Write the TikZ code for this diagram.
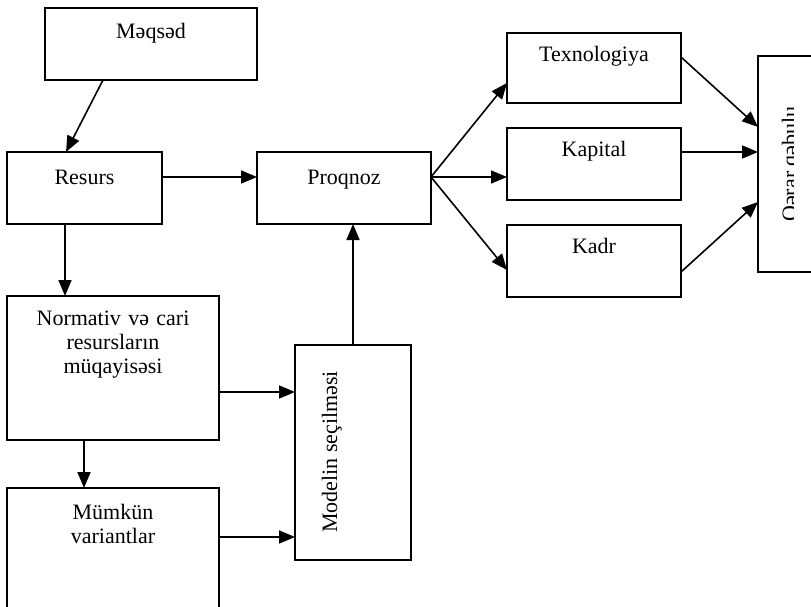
\documentclass[tikz,border=0pt]{standalone}
\usepackage{fontspec}
\setmainfont{Liberation Serif}
\usetikzlibrary{arrows.meta,calc}
\begin{document}
\begin{tikzpicture}[x=1pt,y=-1pt,
  box/.style={draw,line width=1.7pt,rectangle,inner sep=0pt,outer sep=0pt,anchor=north west},
  lbl/.style={inner sep=0pt,outer sep=0pt,font=\fontsize{22}{24}\selectfont},
  conn/.style={line width=1.6pt,-{Triangle[length=16pt,width=13pt]}}]
\useasboundingbox (0,0) rectangle (811,607);
\clip (0,0) rectangle (811,607);
% boxes
\node[box,minimum width=212pt,minimum height=72pt] (m) at (45,8) {};
\node[box,minimum width=155pt,minimum height=72pt] (r) at (7,152) {};
\node[box,minimum width=174pt,minimum height=72pt] (p) at (257,152) {};
\node[box,minimum width=174pt,minimum height=70pt] (t) at (507,33) {};
\node[box,minimum width=174pt,minimum height=72pt] (k) at (507,128) {};
\node[box,minimum width=174pt,minimum height=72pt] (d) at (507,225) {};
\node[box,minimum width=80pt,minimum height=216pt] (q) at (758,56) {};
\node[box,minimum width=212pt,minimum height=144pt] (n) at (7,296) {};
\node[box,minimum width=212pt,minimum height=150pt] (v) at (7,488) {};
\node[box,minimum width=116pt,minimum height=215pt] (s) at (295,345) {};
% texts
\node[lbl,anchor=base] (mt) at ($(m.north)+(0,31)$) {Məqsəd};
\node[lbl,anchor=base] (rt) at ($(r.north)+(0,32)$) {Resurs};
\node[lbl,anchor=base] (pt) at ($(p.north)+(0,32)$) {Proqnoz};
\node[lbl,anchor=base] (tt) at ($(t.north)+(0,29)$) {Texnologiya};
\node[lbl,anchor=base] (kt) at ($(k.north)+(0,29)$) {Kapital};
\node[lbl,anchor=base] (dt) at ($(d.north)+(0,28)$) {Kadr};
\node[lbl,anchor=base,text width=210pt,align=center] (nt) at ($(n.north)+(0,29)$) {Normativ və cari\\resursların\\müqayisəsi};
\node[lbl,anchor=base,text width=210pt,align=center] (vt) at ($(v.north)+(0,31)$) {Mümkün\\variantlar};
\node[lbl,anchor=base,rotate=90] (st) at (337,452) {Modelin seçilməsi};
\begin{scope}
\clip (758,56) rectangle (793,272);
\node[lbl,anchor=base,rotate=90] (qt) at (797,164) {Qərar qəbulu};
\end{scope}
% connectors
\draw[conn] ($(m.south west)+(58,0)$) -- ($(r.north west)+(59,0)$);
\draw[conn] ($(r.north east)+(0,25)$) -- ($(p.north west)+(0,25)$);
\draw[conn] ($(r.south west)+(58,0)$) -- ($(n.north west)+(58,0)$);
\draw[conn] ($(n.south west)+(77,0)$) -- ($(v.north west)+(77,0)$);
\draw[conn] ($(n.north east)+(0,96)$) -- ($(s.north west)+(0,47)$);
\draw[conn] ($(v.north east)+(0,49)$) -- ($(s.north west)+(0,192)$);
\draw[conn] ($(s.north west)+(58,0)$) -- ($(p.south west)+(96,0)$);
\coordinate (po) at ($(p.north east)+(0,25)$);
\draw[conn] (po) -- ($(t.north west)+(0,50)$);
\draw[conn] (po) -- ($(k.north west)+(0,49)$);
\draw[conn] (po) -- ($(d.north west)+(0,45)$);
\draw[conn] ($(t.north east)+(0,24)$) -- ($(q.north west)+(0,71)$);
\draw[conn] ($(k.north east)+(0,24)$) -- ($(q.north west)+(0,96)$);
\draw[conn] ($(d.north east)+(0,47)$) -- ($(q.north west)+(0,146)$);
\end{tikzpicture}
\end{document}
